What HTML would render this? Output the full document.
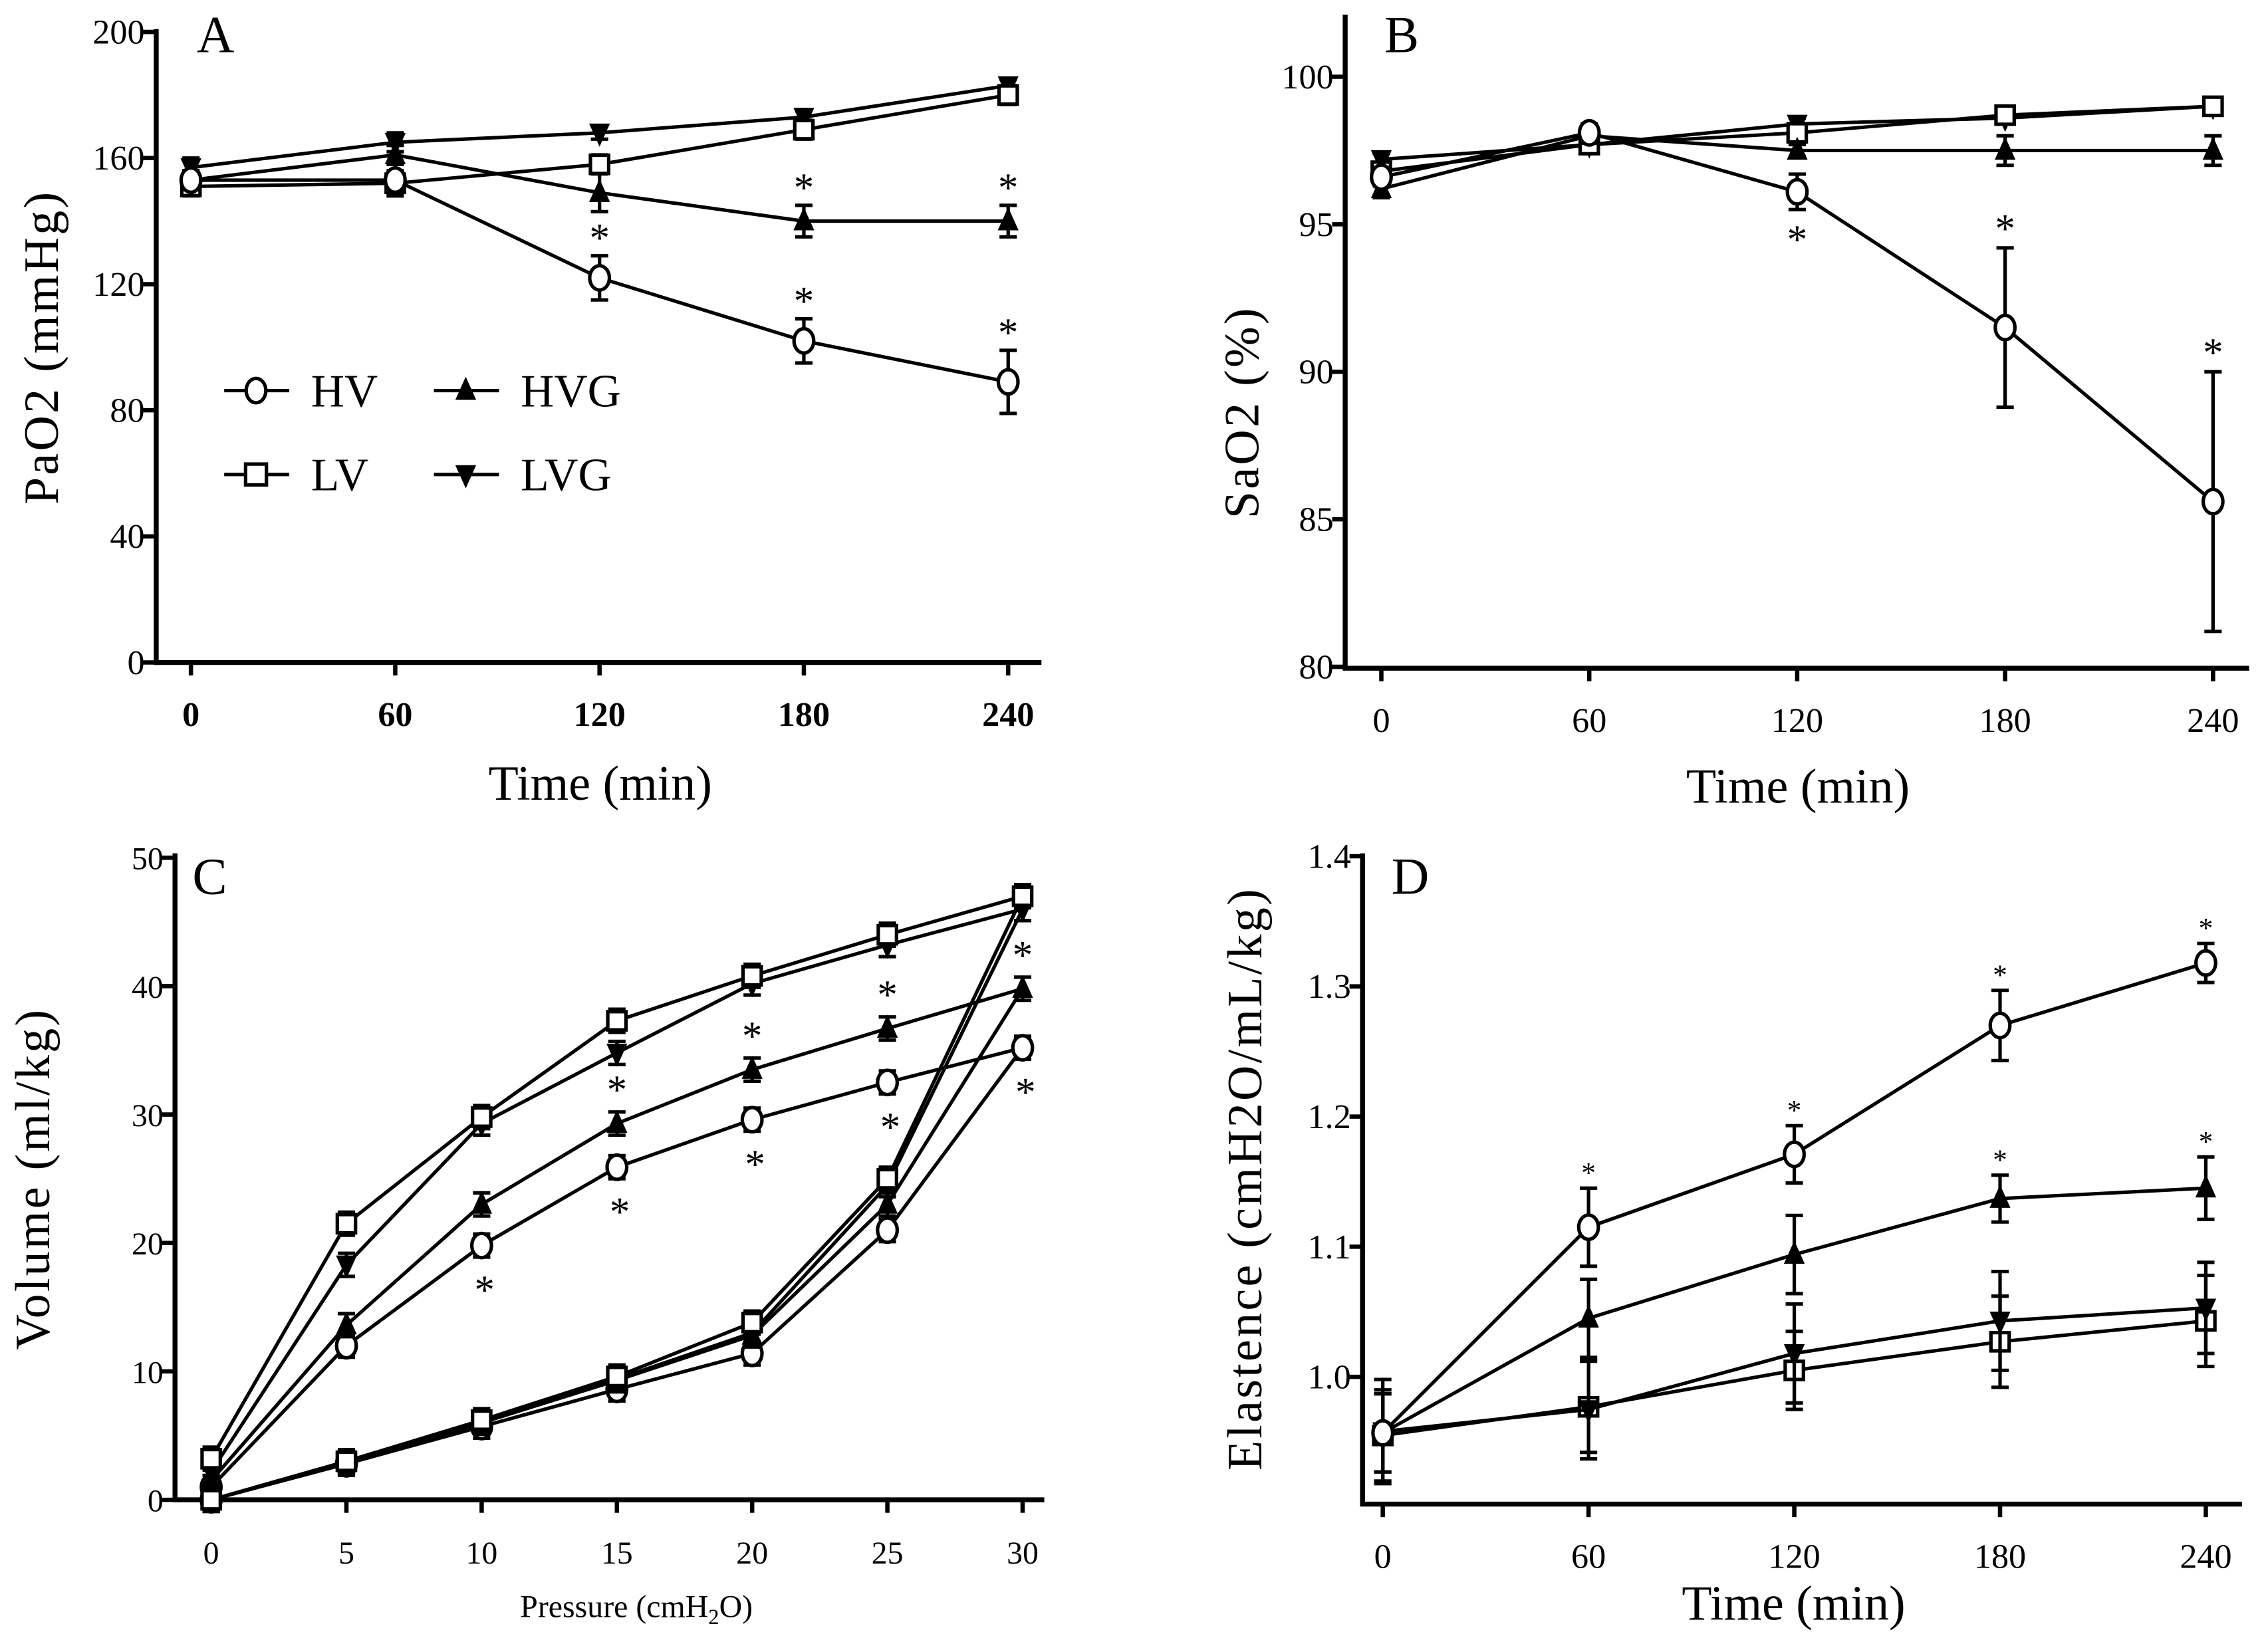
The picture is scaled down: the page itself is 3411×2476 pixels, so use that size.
<!DOCTYPE html>
<html><head><meta charset="utf-8"><style>
html,body{margin:0;padding:0;background:#fff;}
svg{display:block;}
text{font-family:"Liberation Serif",serif;fill:#000;}
</style></head><body>
<svg id="fig" width="3411" height="2476" viewBox="0 0 1568 1138" xmlns="http://www.w3.org/2000/svg"></svg>
<script>
// ---- Panel A data ----
const aTimes=[0,60,120,180,240];
const aHV=[153,153,122,102,89];
const aHVerr=[3,5,7,7,10];
const aLV=[151,152,158,169,180];
const aLVerr=[3,4,3,3,3];
const aHVG=[153,161,149,140,140];
const aHVGerr=[3,3,6,5,5];
const aLVG=[157,165,168,173,183];
const aLVGerr=[3,3,2,2,2];
const aTicksY=[0,40,80,120,160,200];
// ---- Panel B data ----
const bHV=[96.6,98.1,96.1,91.5,85.6];
const bHVerr=[0.3,0.3,0.6,2.7,4.4];
const bLV=[96.8,97.7,98.1,98.7,99.0];
const bLVerr=[0.3,0.3,0.3,0.2,0.2];
const bHVG=[96.2,98.0,97.5,97.5,97.5];
const bHVGerr=[0.3,0.2,0.2,0.5,0.5];
const bLVG=[97.2,97.7,98.4,98.6,99.0];
const bLVGerr=[0.2,0.2,0.2,0.2,0.2];
const bTicksY=[80,85,90,95,100];
// ---- Panel C data (inflation 0->30, then deflation 30->0) ----
const cPress=[0,5,10,15,20,25,30,25,20,15,10,5,0];
const cHV=[0,2.8,5.7,8.6,11.4,21,35.2,32.5,29.6,25.9,19.8,12.0,1.0];
const cLV=[0,3,6.2,9.6,13.8,25,47,44,40.8,37.3,29.8,21.5,3.2];
const cHVG=[0,2.9,6.0,9.3,12.8,23,39.8,36.7,33.5,29.3,23.0,13.6,1.5];
const cLVG=[0,2.9,6.0,9.4,13,24.5,46,43.2,40.2,34.8,29.3,18.3,2.2];
const cTicksX=[0,5,10,15,20,25,30];
const cTicksY=[0,10,20,30,40,50];
// ---- Panel D data ----
const dHV=[0.957,1.115,1.171,1.270,1.318];
const dHVerr=[0.03,0.03,0.022,0.027,0.015];
const dHVG=[0.957,1.045,1.094,1.137,1.145];
const dHVGerr=[0.03,0.03,0.03,0.018,0.024];
const dLVG=[0.958,0.975,1.018,1.043,1.053];
const dLVGerr=[0.04,0.038,0.038,0.038,0.035];
const dLV=[0.955,0.977,1.005,1.027,1.043];
const dLVerr=[0.035,0.035,0.03,0.035,0.035];
const dTicksY=[1.0,1.1,1.2,1.3,1.4];

const NS="http://www.w3.org/2000/svg";
const svg=document.getElementById('fig');
const LW=2.4;
function el(tag,attrs,parent,txt){const e=document.createElementNS(NS,tag);for(const k in attrs)e.setAttribute(k,attrs[k]);if(txt!==undefined)e.textContent=txt;(parent||svg).appendChild(e);return e;}
function lin(d0,d1,r0,r1){return v=>r0+(v-d0)*(r1-r0)/(d1-d0);}

function marker(g,type,x,y,r){
  let m;
  if(type==='circle'){m=el('ellipse',{cx:x,cy:y,rx:r*0.85,ry:r*1.05,fill:'#fff',stroke:'#000','stroke-width':LW},g);}
  else if(type==='square'){m=el('rect',{x:x-r*0.9,y:y-r*0.9,width:r*1.8,height:r*1.8,fill:'#fff',stroke:'#000','stroke-width':LW},g);}
  else if(type==='up'){m=el('polygon',{points:`${x},${y-r*1.2} ${x-r*0.9},${y+r*0.8} ${x+r*0.9},${y+r*0.8}`,fill:'#000'},g);}
  else {m=el('polygon',{points:`${x},${y+r*1.2} ${x-r*0.9},${y-r*0.8} ${x+r*0.9},${y-r*0.8}`,fill:'#000'},g);}
  
  
}
function series(g,name,xs,ys,errs,sx,sy,type,r){
  const sg=el('g',{},g);
  
  
  const pts=xs.map((x,i)=>sx(x)+','+sy(ys[i])).join(' ');
  const pl=el('polyline',{points:pts,fill:'none',stroke:'#000','stroke-width':LW},sg);
  
  
  if(errs){xs.forEach((x,i)=>{
    const X=sx(x),y1=sy(ys[i]+errs[i]),y2=sy(ys[i]-errs[i]);
    const eb=el('path',{d:`M${X},${y1}V${y2}M${X-6},${y1}H${X+6}M${X-6},${y2}H${X+6}`,stroke:'#000','stroke-width':LW,fill:'none'},sg);
    
    
  });}
  xs.forEach((x,i)=>marker(sg,type,sx(x),sy(ys[i]),r));
}
function star(g,x,y,size){const t=el('text',{x:x,y:y,'font-size':size||28,'text-anchor':'middle','font-family':'Liberation Sans,sans-serif'},g,'*');
  
  }

function axes(g,o){
  const ax=el('path',{d:`M${o.ax},${o.yTop}V${o.yBot}H${o.axEnd}`,stroke:'#000','stroke-width':3.4,fill:'none'},g);
  
  
  o.xticks.forEach(v=>{const X=o.sx(v);
    el('line',{x1:X,y1:o.yBot,x2:X,y2:o.yBot+9,stroke:'#000','stroke-width':3},g);
    const t=el('text',{x:X,y:o.yBot+44,'font-size':o.tfs,'text-anchor':'middle','font-weight':o.xBold?'bold':'normal'},g,o.xfmt?o.xfmt(v):v);
    
    
  });
  o.yticks.forEach(v=>{const Y=o.sy(v);
    el('line',{x1:o.ax-9,y1:Y,x2:o.ax,y2:Y,stroke:'#000','stroke-width':3},g);
    const t=el('text',{x:o.ax-8,y:Y+8,'font-size':o.tfs,'text-anchor':'end'},g,o.yfmt?o.yfmt(v):v);
    
    
  });
  const xt=el('text',{x:o.xtX,y:o.xtY,'font-size':o.xtfs||34,'text-anchor':'middle'},g);
  
  
  if(o.xtHTML){xt.innerHTML=o.xtHTML;}else xt.textContent=o.xt;
  const yt=el('text',{x:0,y:0,'font-size':o.ytfs||32,'text-anchor':'middle',transform:`translate(${o.ytX},${o.ytY}) rotate(-90)`,'letter-spacing':o.ls||0},g,o.yt);
  
  
  const pl=el('text',{x:o.plX,y:o.plY,'font-size':36,'font-family':o.plSans?'Liberation Sans,sans-serif':'Liberation Serif,serif'},g,o.pl);
  
  
}

// ---- Panel A ----
{const g=el('g',{});
 const sx=lin(0,240,132,697), sy=lin(0,200,458,22);
 axes(g,{ax:108,axEnd:720,yTop:20,yBot:458,xticks:aTimes,yticks:aTicksY,sx,sy,tfs:24,xBold:true,xt:'Time (min)',xtX:415,xtY:553,yt:'PaO2 (mmHg)',ytfs:34,ytX:40,ytY:240,ls:1.5,pl:'A',plX:136,plY:36});
 series(g,'lvg',aTimes,aLVG,aLVGerr,sx,sy,'down',8);
 series(g,'lv',aTimes,aLV,aLVerr,sx,sy,'square',7);
 series(g,'hvg',aTimes,aHVG,aHVGerr,sx,sy,'up',8);
 series(g,'hv',aTimes,aHV,aHVerr,sx,sy,'circle',8);
 [2,3,4].forEach(i=>star(g,sx(aTimes[i]),sy(aHV[i]+aHVerr[i])-3));
 [3,4].forEach(i=>star(g,sx(aTimes[i]),sy(aHVG[i]+aHVGerr[i])-3));
 const lg=el('g',{},g);
 const items=[['HV','circle',155,270],['HVG','up',300,270],['LV','square',155,328],['LVG','down',300,328]];
 items.forEach(([n,t,x,y])=>{const ig=el('g',{},lg);
   
   
   el('line',{x1:x,y1:y,x2:x+45,y2:y,stroke:'#000','stroke-width':LW},ig);
   marker(ig,t,x+22,y,8);
   el('text',{x:x+60,y:y+11,'font-size':32},ig,n);});
}
// ---- Panel B ----
{const g=el('g',{});
 const sx=lin(0,240,955,1530), sy=lin(80,100,461,53);
 axes(g,{ax:930,axEnd:1555,yTop:10,yBot:462,xticks:aTimes,yticks:bTicksY,sx,sy,tfs:24,xt:'Time (min)',xtX:1243,xtY:555,yt:'SaO2 (%)',ytfs:34,ytX:870,ytY:285,ls:1.5,pl:'B',plX:957,plY:36});
 series(g,'lvg',aTimes,bLVG,bLVGerr,sx,sy,'down',8);
 series(g,'lv',aTimes,bLV,bLVerr,sx,sy,'square',7);
 series(g,'hvg',aTimes,bHVG,bHVGerr,sx,sy,'up',8);
 series(g,'hv',aTimes,bHV,bHVerr,sx,sy,'circle',8);
 star(g,sx(120),sy(bHV[2]-bHVerr[2])+30);
 star(g,sx(180),sy(bHV[3]+bHVerr[3])-4);
 star(g,sx(240),sy(bHV[4]+bHVerr[4])-4);
}
// ---- Panel C ----
{const g=el('g',{});
 const sx=lin(0,30,146,707), sy=lin(0,50,1037,593);
 axes(g,{ax:121,axEnd:722,yTop:590,yBot:1037,xticks:cTicksX,yticks:cTicksY,sx,sy,tfs:22,xtX:440,xtY:1118,xtfs:22,xtHTML:'Pressure (cmH<tspan font-size="15" dy="5">2</tspan><tspan dy="-5">O)</tspan>',yt:'Volume (ml/kg)',ytfs:34,ytX:34,ytY:815,ls:1.5,pl:'C',plX:133,plY:618,plSans:true});
 const e=cPress.map(()=>0.9);
 series(g,'hv',cPress,cHV,e,sx,sy,'circle',8);
 series(g,'hvg',cPress,cHVG,e,sx,sy,'up',8);
 series(g,'lvg',cPress,cLVG,e,sx,sy,'down',8);
 series(g,'lv',cPress,cLV,e,sx,sy,'square',7);
 [10,9,8,7,6].forEach(i=>star(g,sx(cPress[i])+2,sy(cHV[i])+40));
 [9,8,7,6].forEach(i=>star(g,sx(cPress[i]),sy(cHVG[i])-14));
}
// ---- Panel D ----
{const g=el('g',{});
 const sx=lin(0,240,956,1525), sy=lin(1.0,1.4,952,592);
 axes(g,{ax:942,axEnd:1550,yTop:590,yBot:1040,xticks:aTimes,yticks:dTicksY,sx,sy,tfs:24,yfmt:v=>v.toFixed(1),xt:'Time (min)',xtX:1240,xtY:1120,yt:'Elastence (cmH2O/mL/kg)',ytfs:34,ytX:872,ytY:815,ls:1.5,pl:'D',plX:962,plY:618,plSans:true});
 series(g,'lv',aTimes,dLV,dLVerr,sx,sy,'square',7);
 series(g,'lvg',aTimes,dLVG,dLVGerr,sx,sy,'down',8);
 series(g,'hvg',aTimes,dHVG,dHVGerr,sx,sy,'up',8);
 series(g,'hv',aTimes,dHV,dHVerr,sx,sy,'circle',8);
 [1,2,3,4].forEach(i=>star(g,sx(aTimes[i]),sy(dHV[i]+dHVerr[i])-4,20));
 [3,4].forEach(i=>star(g,sx(aTimes[i]),sy(dHVG[i]+dHVGerr[i])-4,20));
}
</script>
</body></html>
